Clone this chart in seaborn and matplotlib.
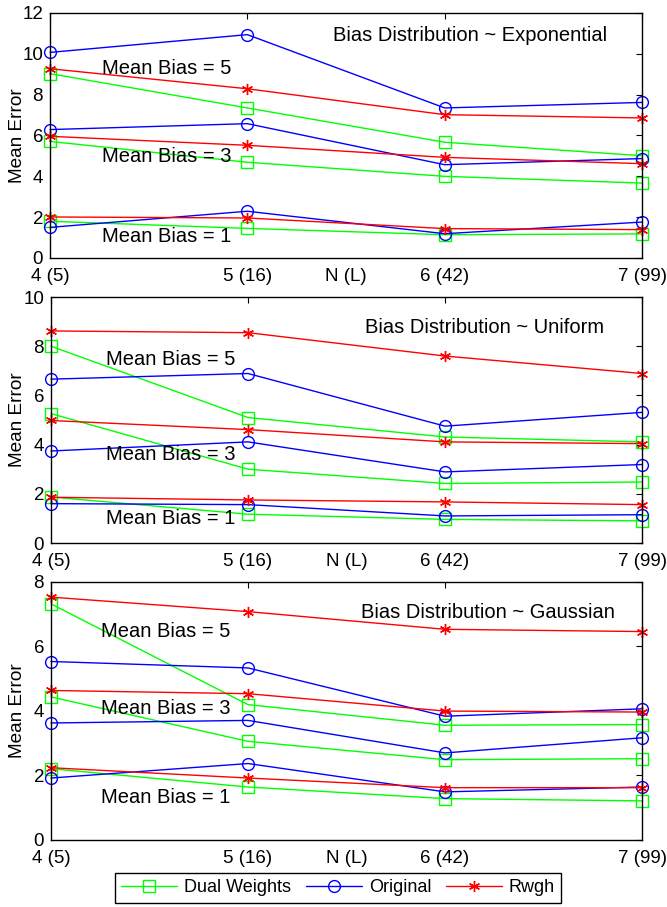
import numpy as np
import pandas as pd
import matplotlib
matplotlib.use("Agg")
import matplotlib.pyplot as plt
import matplotlib.transforms as mtransforms
from matplotlib.lines import Line2D
import seaborn as sns

# ---------------- data ----------------
N = [4, 5, 6, 7]
xtick_labels = ["4 (5)", "5 (16)", "6 (42)", "7 (99)"]
bias_levels = [1, 3, 5]
methods = ["Dual Weights", "Original", "Rwgh"]
dists = ["Exponential", "Uniform", "Gaussian"]

# rows: mean bias 1, 3, 5 ; columns: N = 4,5,6,7
exp_dual = [[1.80, 1.45, 1.14, 1.18], [5.71, 4.69, 4.00, 3.67], [9.03, 7.35, 5.67, 5.01]]
exp_orig = [[1.50, 2.29, 1.19, 1.76], [6.29, 6.58, 4.57, 4.87], [10.07, 10.94, 7.35, 7.62]]
exp_rwgh = [[2.01, 1.96, 1.44, 1.39], [5.96, 5.52, 4.93, 4.62], [9.27, 8.29, 7.02, 6.86]]

uni_dual = [[1.87, 1.17, 0.96, 0.90], [5.26, 3.00, 2.42, 2.48], [8.00, 5.10, 4.31, 4.11]]
uni_orig = [[1.60, 1.56, 1.10, 1.15], [3.74, 4.11, 2.89, 3.19], [6.66, 6.89, 4.75, 5.31]]
uni_rwgh = [[1.86, 1.75, 1.67, 1.56], [4.98, 4.61, 4.11, 4.04], [8.62, 8.55, 7.60, 6.89]]

gau_dual = [[2.20, 1.63, 1.27, 1.20], [4.43, 3.05, 2.48, 2.51], [7.32, 4.19, 3.55, 3.57]]
gau_orig = [[1.91, 2.36, 1.48, 1.63], [3.62, 3.70, 2.69, 3.16], [5.53, 5.33, 3.83, 4.06]]
gau_rwgh = [[2.23, 1.91, 1.61, 1.61], [4.63, 4.53, 3.99, 3.96], [7.53, 7.08, 6.53, 6.46]]

y_max = [12, 10, 8]

# ---------------- tidy table ----------------
series = {
    ("Exponential", "Dual Weights"): exp_dual,
    ("Exponential", "Original"): exp_orig,
    ("Exponential", "Rwgh"): exp_rwgh,
    ("Uniform", "Dual Weights"): uni_dual,
    ("Uniform", "Original"): uni_orig,
    ("Uniform", "Rwgh"): uni_rwgh,
    ("Gaussian", "Dual Weights"): gau_dual,
    ("Gaussian", "Original"): gau_orig,
    ("Gaussian", "Rwgh"): gau_rwgh,
}
rows = []
for (d, m), mat in series.items():
    for b, vals in zip(bias_levels, mat):
        for n, v in zip(N, vals):
            rows.append(dict(dist=d, method=m, bias=b, N=n, err=v))
df = pd.DataFrame(rows)

# ---------------- style ----------------
sns.set_style("white")
plt.rcParams["font.family"] = ["Liberation Sans", "DejaVu Sans"]
for k in ["text.color", "axes.labelcolor", "xtick.color", "ytick.color", "axes.edgecolor"]:
    plt.rcParams[k] = "black"

colors = {"Dual Weights": (0, 1, 0), "Original": (0, 0, 1), "Rwgh": (1, 0, 0)}
markers = {"Dual Weights": "s", "Original": "o", "Rwgh": (6, 2, 0)}
msizes = {"Dual Weights": 8.5, "Original": 8.5, "Rwgh": 8}

W, H = 667, 907
fig = plt.figure(figsize=(W / 100, H / 100), dpi=100)

# axes rectangles in pixels: left, top, right, bottom
rects = [(50, 13, 642, 258), (51, 297, 642, 543), (51, 582, 642, 839.5)]

annot = {
    "Exponential": dict(mb=[(4.59, 1.03), (4.59, 4.95), (4.59, 9.3)], title=(6.13, 10.9)),
    "Uniform": dict(mb=[(4.61, 1.0), (4.61, 3.6), (4.61, 7.47)], title=(6.2, 8.77)),
    "Gaussian": dict(mb=[(4.58, 1.31), (4.58, 4.08), (4.58, 6.47)], title=(6.22, 7.06)),
}

tick_fs = 13.5
xpad_pts = 7.5

for i, d in enumerate(dists):
    l, t, r, b = rects[i]
    ax = fig.add_axes([l / W, 1 - b / H, (r - l) / W, (b - t) / H])
    sub = df[df.dist == d]
    for m in methods:
        for bl in bias_levels:
            s = sub[(sub.method == m) & (sub.bias == bl)]
            sns.lineplot(
                data=s, x="N", y="err", ax=ax, color=colors[m],
                marker=markers[m], markersize=msizes[m],
                markerfacecolor="none", markeredgecolor=colors[m],
                markeredgewidth=1.0, linewidth=1.0, clip_on=False,
                estimator=None, legend=False,
            )
    ax.set_xlim(4, 7)
    ax.set_ylim(0, y_max[i])
    ax.set_xticks(N)
    ax.set_xticklabels(xtick_labels)
    ax.set_yticks(np.arange(0, y_max[i] + 1, 2))
    ax.tick_params(direction="in", top=True, right=True, length=4, width=0.8,
                   labelsize=tick_fs, colors="black")
    ax.tick_params(axis="x", pad=xpad_pts)
    ax.tick_params(axis="y", pad=5)
    for sp in ax.spines.values():
        sp.set_linewidth(1.0)
        sp.set_color("black")
    ax.set_ylabel("Mean Error", fontsize=13.7, labelpad=0)
    ax.yaxis.set_label_coords(26 / W, 0.5,
                              transform=mtransforms.blended_transform_factory(fig.transFigure, ax.transAxes))
    ax.set_xlabel("N (L)", fontsize=tick_fs)
    tr = ax.transAxes + mtransforms.ScaledTranslation(0, -xpad_pts / 72, fig.dpi_scale_trans)
    ax.xaxis.set_label_coords(0.5, 0, transform=tr)
    ax.xaxis.label.set_va("top")
    for (x, y), bl in zip(annot[d]["mb"], bias_levels):
        ax.text(x, y, f"Mean Bias = {bl}", ha="center", va="center", fontsize=14.5)
    tx, ty = annot[d]["title"]
    ax.text(tx, ty, f"Bias Distribution ~ {d}", ha="center", va="center", fontsize=14.5)

handles = [
    Line2D([], [], color=colors[m], marker=markers[m], markersize=msizes[m],
           markerfacecolor="none", markeredgecolor=colors[m], linewidth=1.0)
    for m in methods
]
leg = fig.legend(handles, methods, ncol=3, loc="center",
                 bbox_to_anchor=(338 / W, 1 - 888 / H), fontsize=13,
                 handlelength=3.1, handletextpad=0.4, columnspacing=0.8,
                 fancybox=False, framealpha=1, edgecolor="black", borderpad=0.35)
leg.get_frame().set_linewidth(1.0)

fig.savefig("out.png", dpi=100)
